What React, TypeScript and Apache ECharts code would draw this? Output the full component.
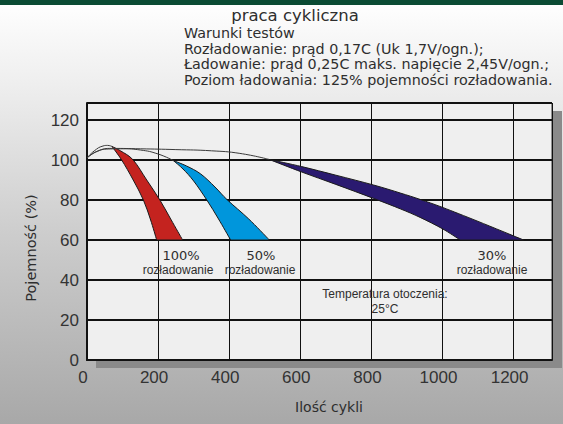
import React, { useEffect, useRef } from "react";
import * as echarts from "echarts";

// ---- data ----
const xTicks = [0, 200, 400, 600, 800, 1000, 1200];
const yTicks = [0, 20, 40, 60, 80, 100, 120];

// thin lines (cycles, capacity %)
const redLine: [number, number][] = [[0, 101], [20, 104.5], [45, 107], [58, 107.3], [70, 106.8]];
const blueLine: [number, number][] = [[0, 101], [25, 104], [60, 105.5], [100, 105.6], [150, 105], [200, 103], [243, 99.7]];
const navyLine: [number, number][] = [[0, 101], [30, 104.5], [70, 105.8], [150, 105.6], [250, 105.2], [350, 104.6], [430, 103.3], [512, 100.3]];

// bands: left/upper edge and right/lower edge, top to bottom
const redLeft: [number, number][] = [[70, 106.8], [97.5, 100], [130, 90], [158.6, 80], [179, 70], [196, 60]];
const redRight: [number, number][] = [[70, 106.8], [95, 104.5], [130, 100], [168, 90], [205, 80], [237, 70], [269, 60]];
const blueLeft: [number, number][] = [[243, 99.7], [270, 95.5], [300, 89.5], [337, 80], [370, 70.5], [404, 60]];
const blueRight: [number, number][] = [[243, 99.7], [280, 97], [320, 93], [360, 86.5], [395, 80], [455, 70.5], [513, 60]];
const navyLower: [number, number][] = [[512, 100.3], [604, 94], [700, 87.8], [806, 80.8], [881, 75.6], [937, 71.3], [1000, 65.6], [1050, 60]];
const navyUpper: [number, number][] = [[512, 100.3], [604, 96.7], [700, 92.4], [806, 87.5], [881, 83.5], [937, 80.3], [1000, 76.3], [1100, 69.3], [1228, 60]];

const bands = [
  { name: "100%", a: redLeft, b: redRight, color: "#c4231f" },
  { name: "50%", a: blueLeft, b: blueRight, color: "#0096dc" },
  { name: "30%", a: navyLower, b: navyUpper, color: "#2a1a70" },
];

const FONT = "DejaVu Sans";
const ARIAL = "Liberation Sans";

function spline(pts: number[][], first: boolean): string {
  // Catmull-Rom through pixel points -> cubic bezier
  let d = first ? `M${pts[0][0]},${pts[0][1]}` : `L${pts[0][0]},${pts[0][1]}`;
  for (let i = 0; i < pts.length - 1; i++) {
    const p0 = pts[Math.max(0, i - 1)];
    const p1 = pts[i];
    const p2 = pts[i + 1];
    const p3 = pts[Math.min(pts.length - 1, i + 2)];
    const c1x = p1[0] + (p2[0] - p0[0]) / 6;
    const c1y = p1[1] + (p2[1] - p0[1]) / 6;
    const c2x = p2[0] - (p3[0] - p1[0]) / 6;
    const c2y = p2[1] - (p3[1] - p1[1]) / 6;
    d += ` C${c1x},${c1y} ${c2x},${c2y} ${p2[0]},${p2[1]}`;
  }
  return d;
}

export default function App() {
  const ref = useRef<HTMLDivElement>(null);
  useEffect(() => {
    document.body.style.margin = "0";
    const chart = echarts.init(ref.current!, null, { renderer: "svg" });
    const bandSeries = bands.map((bd) => ({
      type: "custom",
      name: bd.name,
      coordinateSystem: "cartesian2d",
      data: [[bd.a[0][0], bd.a[0][1]]],
      z: 3,
      renderItem: (_p: any, api: any) => {
        const a = bd.a.map((p) => api.coord(p));
        const b = bd.b.map((p) => api.coord(p)).reverse();
        const d = spline(a, true) + " " + spline(b, false) + " Z";
        return {
          type: "path",
          shape: { pathData: d },
          style: { fill: bd.color, stroke: "#1a1a1a", lineWidth: 1 },
        };
      },
    }));
    const lineSeries = [redLine, blueLine, navyLine].map((ln) => ({
      type: "line",
      data: ln,
      smooth: true,
      symbol: "none",
      z: 4,
      lineStyle: { color: "#3a3a3a", width: 1 },
    }));
    const txt = (text: string, x: number, y: number, size: number, family: string, align = "center", rotation = 0) => ({
      type: "text",
      x,
      y,
      rotation,
      z: 10,
      style: { text, fill: "#2e2e2e", font: `${size}px "${family}"`, textAlign: align, textVerticalAlign: "middle" },
    });
    chart.setOption({
      animation: false,
      backgroundColor: {
        type: "linear", x: 0, y: 0, x2: 0, y2: 1,
        colorStops: [
          { offset: 0, color: "#ffffff" },
          { offset: 0.2, color: "#eeeeee" },
          { offset: 0.55, color: "#cdcdcd" },
          { offset: 1, color: "#a8a8a8" },
        ],
      },
      grid: { left: 87, right: 11, top: 103, bottom: 64, show: false },
      xAxis: {
        type: "value", min: 0, max: 1308, interval: 200,
        axisLine: { show: true, lineStyle: { color: "#111", width: 2 } },
        axisTick: { show: false },
        axisLabel: {
          fontFamily: ARIAL, fontSize: 17, color: "#333", margin: 9, padding: [0, 8, 0, 0],
          formatter: (v: number) => (xTicks.includes(v) ? String(v) : ""),
        },
        splitLine: { show: true, lineStyle: { color: "#111", width: 1 } },
      },
      yAxis: {
        type: "value", min: 0, max: 128.5, interval: 20,
        axisLine: { show: true, lineStyle: { color: "#111", width: 2 } },
        axisTick: { show: false },
        axisLabel: {
          fontFamily: ARIAL, fontSize: 17, color: "#333", margin: 8,
          formatter: (v: number) => (yTicks.includes(v) ? String(v) : ""),
        },
        splitLine: { show: true, lineStyle: { color: "#111", width: 2 } },
      },
      graphic: {
        elements: [
          { type: "rect", z: -5, z2: 0, shape: { x: 0, y: 0, width: 563, height: 5 }, style: { fill: "#0b4b34" } },
          { type: "rect", z: -5, z2: 0, shape: { x: 96, y: 111, width: 466, height: 257 }, style: { fill: "#8a8a8a" } },
          { type: "rect", z: -5, z2: 1, shape: { x: 87, y: 103, width: 465, height: 257 }, style: { fill: "#efefef", stroke: "#333", lineWidth: 1 } },
          txt("praca cykliczna", 295, 15, 16.5, FONT),
          txt("Warunki testów", 184, 33, 14.3, FONT, "left"),
          txt("Rozładowanie: prąd 0,17C (Uk 1,7V/ogn.);", 184, 49, 14.3, FONT, "left"),
          txt("Ładowanie: prąd 0,25C maks. napięcie 2,45V/ogn.;", 184, 64, 14.3, FONT, "left"),
          txt("Poziom ładowania: 125% pojemności rozładowania.", 184, 80, 14.3, FONT, "left"),
          txt("Pojemność (%)", 31, 248, 14.5, FONT, "center", Math.PI / 2),
          txt("Ilość cykli", 329, 407, 14, FONT),
          txt("100%", 181, 255, 13, FONT),
          txt("rozładowanie", 178, 270, 12, ARIAL),
          txt("50%", 261, 255, 13, FONT),
          txt("rozładowanie", 260, 270, 12, ARIAL),
          txt("30%", 492, 255, 13, FONT),
          txt("rozładowanie", 492, 270, 12, ARIAL),
          txt("Temperatura otoczenia:", 385, 294, 12, ARIAL),
          txt("25\u00B0C", 385, 309, 12, ARIAL),
        ],
      },
      series: [...bandSeries, ...lineSeries],
    });
    return () => chart.dispose();
  }, []);
  return <div ref={ref} style={{ width: 563, height: 424, position: "absolute", left: 0, top: 0 }} />;
}
